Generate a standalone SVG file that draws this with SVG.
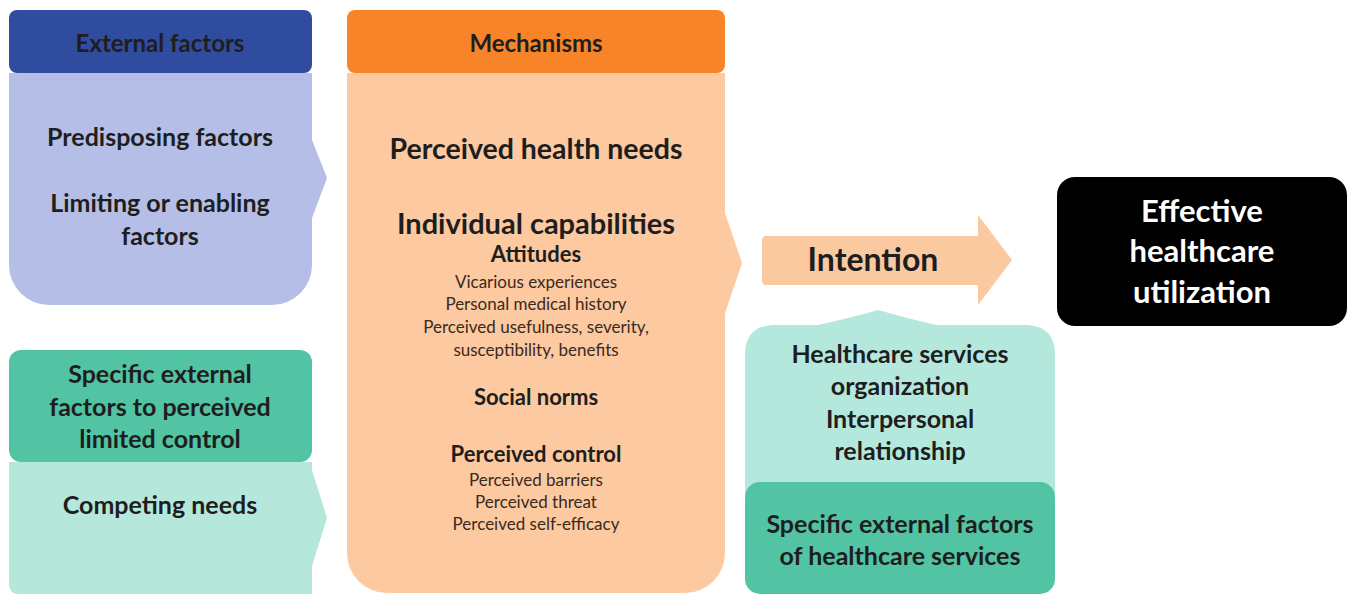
<svg xmlns="http://www.w3.org/2000/svg" width="1352" height="594" viewBox="0 0 1352 594">
<style>
text{font-family:Lato,"Open Sans","Liberation Sans",sans-serif;text-anchor:middle;font-weight:bold;fill:#1e1e1e}
.hd{font-size:24px}
.t22{font-size:25px}
.sm{font-size:17px;font-weight:normal;fill:#3a2a20}
.h18{font-size:22px}
.w{fill:#ffffff;font-size:31px}
</style>
<rect width="1352" height="594" fill="#ffffff"/>
<g id="external-factors">
<path d="M9,73 L312,73 L312,140 L327,178 L312,218 L312,265 A40,40 0 0 1 272,305 L49,305 A40,40 0 0 1 9,265 Z" fill="#b4bee6"/>
<rect x="9" y="10" width="303" height="63" rx="8" fill="#2f4c9f"/>
<text class="hd" x="160" y="52" fill="#151a35">External factors</text>
<text class="t22" x="160" y="146">Predisposing factors</text>
<text class="t22" x="160" y="212">Limiting or enabling</text>
<text class="t22" x="160" y="245">factors</text>
</g>
<g id="specific-limited-control">
<path d="M9,462 L312,462 L312,470 L327,518 L312,566 L312,594 L19,594 Q9,594 9,584 Z" fill="#b5e8db"/>
<rect x="9" y="350" width="303" height="112" rx="12" fill="#52c3a3"/>
<text class="t22" x="160" y="383">Specific external</text>
<text class="t22" x="160" y="416">factors to perceived</text>
<text class="t22" x="160" y="448">limited control</text>
<text class="t22" x="160" y="514">Competing needs</text>
</g>
<g id="mechanisms">
<path d="M347,73 L725,73 L725,213 L742,263 L725,313 L725,553 A40,40 0 0 1 685,593 L387,593 A40,40 0 0 1 347,553 Z" fill="#fcc9a0"/>
<rect x="347" y="10" width="378" height="63" rx="8" fill="#f8842a"/>
<text class="hd" x="536" y="52">Mechanisms</text>
<text x="536" y="159" style="font-size:28.5px">Perceived health needs</text>
<text x="536" y="234" style="font-size:29px">Individual capabilities</text>
<text class="h18" x="536" y="262">Attitudes</text>
<text class="sm" x="536" y="288">Vicarious experiences</text>
<text class="sm" x="536" y="310">Personal medical history</text>
<text class="sm" x="536" y="333">Perceived usefulness, severity,</text>
<text class="sm" x="536" y="356">susceptibility, benefits</text>
<text class="h18" x="536" y="405">Social norms</text>
<text class="h18" x="536" y="462">Perceived control</text>
<text class="sm" x="536" y="486">Perceived barriers</text>
<text class="sm" x="536" y="508">Perceived threat</text>
<text class="sm" x="536" y="530">Perceived self-efficacy</text>
</g>
<g id="connectors">
<path id="intention-arrow" d="M766,236 L978,236 L978,215 L1012,260 L978,305 L978,285 L766,285 Q762,285 762,281 L762,240 Q762,236 766,236 Z" fill="#fbc9a0"/>
</g>
<g id="intention">
<text x="873" y="271" style="font-size:32px">Intention</text>
</g>
<g id="healthcare-services">
<path d="M745,355 Q745,325 775,325 L818,325 Q850,318 878,310 Q906,318 936,325 L1025,325 Q1055,325 1055,355 L1055,495 L745,495 Z" fill="#b5e8dc"/>
<text class="t22" x="900" y="363">Healthcare services</text>
<text class="t22" x="900" y="395">organization</text>
<text class="t22" x="900" y="428">Interpersonal</text>
<text class="t22" x="900" y="460">relationship</text>
</g>
<g id="specific-healthcare">
<rect x="745" y="482" width="310" height="112" rx="15" fill="#52c3a3"/>
<text class="t22" x="900" y="533">Specific external factors</text>
<text class="t22" x="900" y="565">of healthcare services</text>
</g>
<g id="effective-utilization">
<rect x="1057" y="177" width="290" height="149" rx="18" fill="#000000"/>
<text class="w" x="1202" y="222">Effective</text>
<text class="w" x="1202" y="262">healthcare</text>
<text class="w" x="1202" y="303">utilization</text>
</g>
</svg>
